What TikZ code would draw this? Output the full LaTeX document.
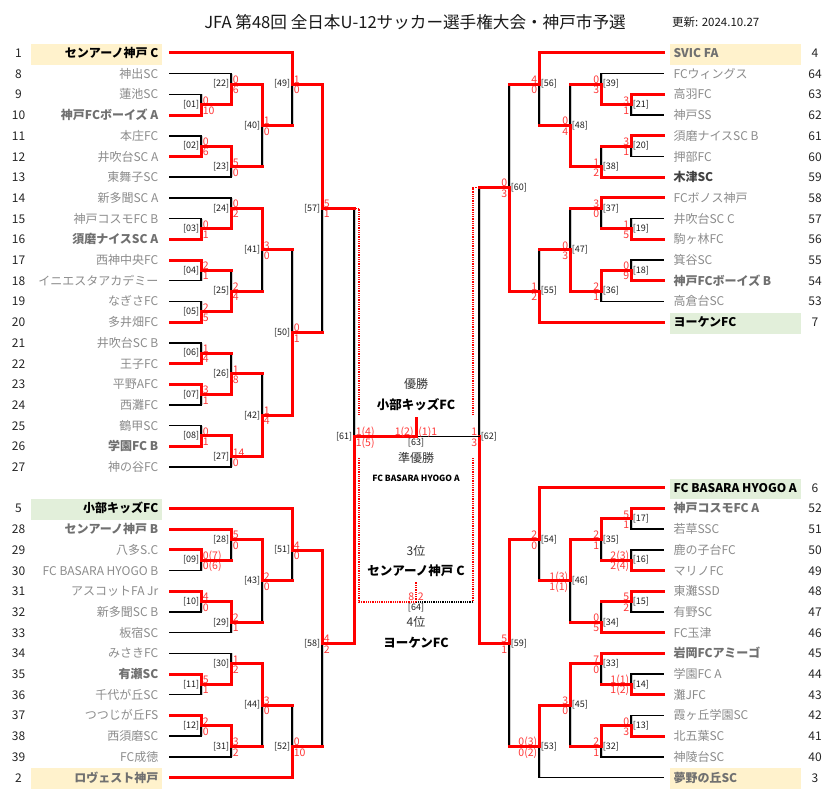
\documentclass[tikz,border=0pt]{standalone}
\usepackage{fontspec}
\setmainfont{Noto Sans CJK JP}
\definecolor{rd}{RGB}{255,0,0}
\definecolor{scr}{RGB}{255,55,55}
\definecolor{tg}{RGB}{140,140,140}
\definecolor{tgb}{RGB}{112,112,112}
\definecolor{tgd}{RGB}{65,65,65}
\definecolor{beige}{RGB}{255,242,204}
\definecolor{lgreen}{RGB}{226,239,218}
\definecolor{lblc}{RGB}{30,30,30}
\definecolor{shd}{RGB}{205,205,205}
\tikzset{
  redln/.style={draw=rd, line width=3pt, line cap=rect},
  blkln/.style={draw=black, line width=1.5pt, line cap=rect},
  shdln/.style={draw=shd, line width=1pt},
  dotr/.style={draw=rd, line width=1.5pt, dash pattern=on 0.9pt off 0.9pt},
  dotk/.style={draw=black, line width=1.5pt, dash pattern=on 0.9pt off 0.9pt},
  teamg/.style={font=\fontsize{12}{14}\selectfont, text=tg, inner sep=0pt, text height=10pt, text depth=1pt},
  teamgb/.style={font=\fontsize{12}{14}\selectfont\bfseries, text=tgb, inner sep=0pt, text height=10pt, text depth=1pt},
  teamd/.style={font=\fontsize{12}{14}\selectfont\bfseries, text=tgd, inner sep=0pt, text height=10pt, text depth=1pt},
  teamk/.style={font=\fontsize{12}{14}\selectfont\bfseries, text=black, inner sep=0pt, text height=10pt, text depth=1pt},
  numst/.style={font=\fontsize{12}{14}\selectfont, text=black!85, inner sep=0pt, text height=10pt, text depth=1pt},
  mlabel/.style={font=\fontsize{9}{10}\selectfont, text=lblc, inner sep=0pt},
  score/.style={font=\fontsize{10.5}{11}\selectfont, text=scr, inner sep=0.4pt, text height=7.6pt, text depth=0pt},
  ctrt/.style={font=\fontsize{12}{14}\selectfont, text=black!80, inner sep=0pt},
  ctrb/.style={font=\fontsize{12.5}{14}\selectfont\bfseries, text=black, inner sep=0pt},
}
\newcommand\LT[4]{%
  \pgfmathsetmacro\yy{53+20.7*#1}%
  \coordinate (TL#1) at (170,\yy);
  \node[numst] (nl#1) at (18.5,\yy) {#2};
  \node[#4, anchor=east] (tl#1) at (158.5,\yy) {#3};
}
\newcommand\RT[4]{%
  \pgfmathsetmacro\yy{53+20.7*#1}%
  \coordinate (TR#1) at (663,\yy);
  \node[numst] (nr#1) at (815,\yy) {#2};
  \node[#4, anchor=west] (tr#1) at (673.3,\yy) {#3};
}
\newcommand\LB[2]{%
  \pgfmathsetmacro\yy{53+20.7*#1}%
  \fill[#2] (31,\yy-9.2) rectangle (161.7,\yy+11.5);
}
\newcommand\RB[2]{%
  \pgfmathsetmacro\yy{53+20.7*#1}%
  \fill[#2] (670,\yy-9.2) rectangle (800.7,\yy+11.5);
}
% #1 num, #2 top input, #3 its style, #4 bottom input, #5 its style, #6 winner t/b, #7 top score, #8 bottom score
\newcommand\Lm[8]{%
  \if#6t \draw[shdln] ([xshift=1.9pt]m#1) -- ([xshift=1.9pt]#4 -| m#1); \draw[blkln] (m#1) -- (#4 -| m#1);
  \else \draw[shdln] ([xshift=1.9pt]m#1) -- ([xshift=1.9pt]#2 -| m#1); \draw[blkln] (m#1) -- (#2 -| m#1); \fi
  \draw[#3] (#2) -- (#2 -| m#1);
  \draw[#5] (#4) -- (#4 -| m#1);
  \if#6t \draw[redln] (#2 -| m#1) -- (m#1); \else \draw[redln] (#4 -| m#1) -- (m#1); \fi
  \node[mlabel, anchor=east] (lab#1) at ([xshift=-1.6pt]m#1) {[#1]};
  \node[score, anchor=south west] (sa#1) at ([xshift=1.2pt]m#1) {#7};
  \node[score, anchor=north west] (sb#1) at ([xshift=1.2pt,yshift=-1.4pt]m#1) {#8};
}
\newcommand\Rm[8]{%
  \if#6t \draw[shdln] ([xshift=1.9pt]m#1) -- ([xshift=1.9pt]#4 -| m#1); \draw[blkln] (m#1) -- (#4 -| m#1);
  \else \draw[shdln] ([xshift=1.9pt]m#1) -- ([xshift=1.9pt]#2 -| m#1); \draw[blkln] (m#1) -- (#2 -| m#1); \fi
  \draw[#3] (#2) -- (#2 -| m#1);
  \draw[#5] (#4) -- (#4 -| m#1);
  \if#6t \draw[redln] (#2 -| m#1) -- (m#1); \else \draw[redln] (#4 -| m#1) -- (m#1); \fi
  \node[mlabel, anchor=west] (lab#1) at ([xshift=1.6pt]m#1) {[#1]};
  \node[score, anchor=south east] (sa#1) at ([xshift=-1.2pt]m#1) {#7};
  \node[score, anchor=north east] (sb#1) at ([xshift=-1.2pt,yshift=-1.4pt]m#1) {#8};
}
\begin{document}
\begin{tikzpicture}[x=1pt,y=-1pt]
\useasboundingbox (0,0) rectangle (829,800);
\fill[white] (0,0) rectangle (829,800);

% title
\node[font=\fontsize{16.6}{18}\selectfont, text=black!90, inner sep=0pt] (title) at (415,22) {JFA 第48回 全日本U-12サッカー選手権大会・神戸市予選};
\node[font=\fontsize{11.5}{13}\selectfont, text=black!90, inner sep=0pt, anchor=west] (upd) at (672,22) {更新: 2024.10.27};

% highlight boxes
\LB{0}{beige} \LB{22}{lgreen} \LB{35}{beige}
\RB{0}{beige} \RB{13}{lgreen} \RB{21}{lgreen} \RB{35}{beige}

% left teams
\LT{0}{1}{センアーノ神戸 C}{teamk}
\LT{1}{8}{神出SC}{teamg}
\LT{2}{9}{蓮池SC}{teamg}
\LT{3}{10}{神戸FCボーイズ A}{teamgb}
\LT{4}{11}{本庄FC}{teamg}
\LT{5}{12}{井吹台SC A}{teamg}
\LT{6}{13}{東舞子SC}{teamg}
\LT{7}{14}{新多聞SC A}{teamg}
\LT{8}{15}{神戸コスモFC B}{teamg}
\LT{9}{16}{須磨ナイスSC A}{teamgb}
\LT{10}{17}{西神中央FC}{teamg}
\LT{11}{18}{イニエスタアカデミー}{teamg}
\LT{12}{19}{なぎさFC}{teamg}
\LT{13}{20}{多井畑FC}{teamg}
\LT{14}{21}{井吹台SC B}{teamg}
\LT{15}{22}{王子FC}{teamg}
\LT{16}{23}{平野AFC}{teamg}
\LT{17}{24}{西灘FC}{teamg}
\LT{18}{25}{鶴甲SC}{teamg}
\LT{19}{26}{学園FC B}{teamgb}
\LT{20}{27}{神の谷FC}{teamg}
\LT{22}{5}{小部キッズFC}{teamk}
\LT{23}{28}{センアーノ神戸 B}{teamgb}
\LT{24}{29}{八多S.C}{teamg}
\LT{25}{30}{FC BASARA HYOGO B}{teamg}
\LT{26}{31}{アスコットFA Jr}{teamg}
\LT{27}{32}{新多聞SC B}{teamg}
\LT{28}{33}{板宿SC}{teamg}
\LT{29}{34}{みさきFC}{teamg}
\LT{30}{35}{有瀬SC}{teamgb}
\LT{31}{36}{千代が丘SC}{teamg}
\LT{32}{37}{つつじが丘FS}{teamg}
\LT{33}{38}{西須磨SC}{teamg}
\LT{34}{39}{FC成徳}{teamg}
\LT{35}{2}{ロヴェスト神戸}{teamgb}

% right teams
\RT{0}{4}{SVIC FA}{teamgb}
\RT{1}{64}{FCウィングス}{teamg}
\RT{2}{63}{高羽FC}{teamg}
\RT{3}{62}{神戸SS}{teamg}
\RT{4}{61}{須磨ナイスSC B}{teamg}
\RT{5}{60}{押部FC}{teamg}
\RT{6}{59}{木津SC}{teamd}
\RT{7}{58}{FCボノス神戸}{teamg}
\RT{8}{57}{井吹台SC C}{teamg}
\RT{9}{56}{駒ヶ林FC}{teamg}
\RT{10}{55}{箕谷SC}{teamg}
\RT{11}{54}{神戸FCボーイズ B}{teamgb}
\RT{12}{53}{高倉台SC}{teamg}
\RT{13}{7}{ヨーケンFC}{teamk}
\RT{21}{6}{FC BASARA HYOGO A}{teamk}
\RT{22}{52}{神戸コスモFC A}{teamgb}
\RT{23}{51}{若草SSC}{teamg}
\RT{24}{50}{鹿の子台FC}{teamg}
\RT{25}{49}{マリノFC}{teamg}
\RT{26}{48}{東灘SSD}{teamg}
\RT{27}{47}{有野SC}{teamg}
\RT{28}{46}{FC玉津}{teamg}
\RT{29}{45}{岩岡FCアミーゴ}{teamgb}
\RT{30}{44}{学園FC A}{teamg}
\RT{31}{43}{灘JFC}{teamg}
\RT{32}{42}{霞ヶ丘学園SC}{teamg}
\RT{33}{41}{北五葉SC}{teamg}
\RT{34}{40}{神陵台SC}{teamg}
\RT{35}{3}{夢野の丘SC}{teamgb}

% match points (vertical x, output y)
\coordinate (m01) at (201,104.75);
\coordinate (m02) at (201,146.15);
\coordinate (m03) at (201,228.95);
\coordinate (m04) at (201,270.35);
\coordinate (m05) at (201,311.75);
\coordinate (m06) at (201,353.15);
\coordinate (m07) at (201,394.55);
\coordinate (m08) at (201,435.95);
\coordinate (m09) at (201,560.15);
\coordinate (m10) at (201,601.55);
\coordinate (m11) at (201,684.35);
\coordinate (m12) at (201,725.75);
\coordinate (m22) at (231,84.05);
\coordinate (m23) at (231,166.85);
\coordinate (m24) at (231,208.25);
\coordinate (m25) at (231,291.05);
\coordinate (m26) at (231,373.85);
\coordinate (m27) at (231,456.65);
\coordinate (m28) at (231,539.45);
\coordinate (m29) at (231,622.25);
\coordinate (m30) at (231,663.65);
\coordinate (m31) at (231,746.45);
\coordinate (m40) at (262,125.45);
\coordinate (m41) at (262,249.65);
\coordinate (m42) at (262,415.25);
\coordinate (m43) at (262,580.85);
\coordinate (m44) at (262,705.05);
\coordinate (m49) at (292,84.05);
\coordinate (m50) at (292,332.45);
\coordinate (m51) at (292,550);
\coordinate (m52) at (292,746.45);
\coordinate (m57) at (322,208.25);
\coordinate (m58) at (322,643.5);
\coordinate (m61) at (354,436.5);
\coordinate (m21) at (631,104.75);
\coordinate (m20) at (631,146.15);
\coordinate (m19) at (631,228.95);
\coordinate (m18) at (631,270.35);
\coordinate (m17) at (631,518.75);
\coordinate (m16) at (631,560.15);
\coordinate (m15) at (631,601.55);
\coordinate (m14) at (631,684.35);
\coordinate (m13) at (631,725.75);
\coordinate (m39) at (601,84.05);
\coordinate (m38) at (601,166.85);
\coordinate (m37) at (601,208.25);
\coordinate (m36) at (601,291.05);
\coordinate (m35) at (601,539.45);
\coordinate (m34) at (601,622.25);
\coordinate (m33) at (601,663.65);
\coordinate (m32) at (601,746.45);
\coordinate (m48) at (570,125.45);
\coordinate (m47) at (570,249.65);
\coordinate (m46) at (570,580.85);
\coordinate (m45) at (570,705.05);
\coordinate (m56) at (539,84.05);
\coordinate (m55) at (539,291.05);
\coordinate (m54) at (539,539.45);
\coordinate (m53) at (539,746.45);
\coordinate (m60) at (509,187.55);
\coordinate (m59) at (509,643.5);
\coordinate (m62) at (479,436.5);

% left bracket
\Lm{01}{TL2}{blkln}{TL3}{redln}{b}{0}{10}
\Lm{22}{TL1}{blkln}{m01}{redln}{b}{0}{6}
\Lm{02}{TL4}{blkln}{TL5}{redln}{b}{0}{6}
\Lm{23}{m02}{redln}{TL6}{blkln}{t}{5}{0}
\Lm{40}{m22}{redln}{m23}{redln}{t}{1}{0}
\Lm{49}{TL0}{redln}{m40}{redln}{t}{1}{0}
\Lm{03}{TL8}{blkln}{TL9}{redln}{b}{0}{1}
\Lm{24}{TL7}{blkln}{m03}{redln}{b}{0}{2}
\Lm{04}{TL10}{redln}{TL11}{blkln}{t}{2}{1}
\Lm{05}{TL12}{blkln}{TL13}{redln}{b}{2}{5}
\Lm{25}{m04}{redln}{m05}{redln}{b}{2}{4}
\Lm{41}{m24}{redln}{m25}{redln}{t}{3}{0}
\Lm{06}{TL14}{blkln}{TL15}{redln}{b}{1}{4}
\Lm{07}{TL16}{redln}{TL17}{blkln}{t}{3}{1}
\Lm{26}{m06}{redln}{m07}{redln}{b}{1}{8}
\Lm{08}{TL18}{blkln}{TL19}{redln}{b}{0}{1}
\Lm{27}{m08}{redln}{TL20}{blkln}{t}{14}{0}
\Lm{42}{m26}{redln}{m27}{redln}{b}{1}{4}
\Lm{50}{m41}{redln}{m42}{redln}{b}{0}{1}
\Lm{57}{m49}{redln}{m50}{redln}{t}{5}{1}
\Lm{09}{TL24}{redln}{TL25}{blkln}{t}{0(7)}{0(6)}
\Lm{28}{TL23}{redln}{m09}{redln}{t}{5}{0}
\Lm{10}{TL26}{redln}{TL27}{blkln}{t}{4}{0}
\Lm{29}{m10}{redln}{TL28}{blkln}{t}{2}{1}
\Lm{43}{m28}{redln}{m29}{redln}{t}{2}{0}
\Lm{51}{TL22}{redln}{m43}{redln}{t}{4}{0}
\Lm{11}{TL30}{redln}{TL31}{blkln}{t}{5}{1}
\Lm{30}{TL29}{blkln}{m11}{redln}{b}{1}{2}
\Lm{12}{TL32}{redln}{TL33}{blkln}{t}{2}{0}
\Lm{31}{m12}{redln}{TL34}{blkln}{t}{3}{2}
\Lm{44}{m30}{redln}{m31}{redln}{t}{3}{0}
\Lm{52}{m44}{redln}{TL35}{redln}{b}{0}{10}
\Lm{58}{m51}{redln}{m52}{redln}{t}{4}{2}

% right bracket
\Rm{21}{TR2}{redln}{TR3}{blkln}{t}{3}{1}
\Rm{39}{TR1}{blkln}{m21}{redln}{b}{0}{3}
\Rm{20}{TR4}{redln}{TR5}{blkln}{t}{3}{1}
\Rm{38}{m20}{redln}{TR6}{redln}{b}{1}{2}
\Rm{48}{m39}{redln}{m38}{redln}{b}{0}{4}
\Rm{56}{TR0}{redln}{m48}{redln}{t}{4}{0}
\Rm{19}{TR8}{blkln}{TR9}{redln}{b}{1}{5}
\Rm{37}{TR7}{redln}{m19}{redln}{t}{3}{0}
\Rm{18}{TR10}{blkln}{TR11}{redln}{b}{0}{9}
\Rm{36}{m18}{redln}{TR12}{blkln}{t}{2}{1}
\Rm{47}{m37}{redln}{m36}{redln}{b}{0}{3}
\Rm{55}{m47}{redln}{TR13}{redln}{b}{1}{2}
\Rm{60}{m56}{redln}{m55}{redln}{b}{0}{3}
\Rm{17}{TR22}{redln}{TR23}{blkln}{t}{5}{1}
\Rm{16}{TR24}{blkln}{TR25}{redln}{b}{2(3)}{2(4)}
\Rm{35}{m17}{redln}{m16}{redln}{t}{2}{1}
\Rm{15}{TR26}{redln}{TR27}{blkln}{t}{5}{2}
\Rm{34}{m15}{redln}{TR28}{redln}{b}{0}{5}
\Rm{46}{m35}{redln}{m34}{redln}{t}{1(3)}{1(1)}
\Rm{54}{TR21}{redln}{m46}{redln}{t}{2}{0}
\Rm{14}{TR30}{blkln}{TR31}{redln}{b}{1(1)}{1(2)}
\Rm{33}{TR29}{redln}{m14}{redln}{t}{7}{0}
\Rm{13}{TR32}{blkln}{TR33}{redln}{b}{0}{3}
\Rm{32}{m13}{redln}{TR34}{blkln}{t}{2}{1}
\Rm{45}{m33}{redln}{m32}{redln}{t}{3}{0}
\Rm{53}{m45}{redln}{TR35}{blkln}{t}{0(3)}{0(2)}
\Rm{59}{m54}{redln}{m53}{redln}{t}{5}{1}

% semifinals
\Lm{61}{m57}{redln}{m58}{redln}{b}{1(4)}{1(5)}
\Rm{62}{m60}{redln}{m59}{redln}{b}{1}{3}

% final [63]
\coordinate (fin) at (416,436.5);
\coordinate (fintop) at (416,418);
\draw[blkln] (fin) -- (m62);
\draw[redln] (m61) -- (fin);
\draw[redln] (fin) -- (fintop);
\node[score, anchor=south east] (fs1) at (414.2,436.5) {1(2)};
\node[score, anchor=south west] (fs2) at (417.8,436.5) {(1)1};
\node[mlabel, anchor=north] (lab63) at (416,438.5) {[63]};

% third place [64] (dotted)
\coordinate (dl1) at (359,208.25);
\coordinate (dl2) at (359,415);
\coordinate (dl3) at (359,458);
\coordinate (dl4) at (359,602);
\coordinate (dr1) at (473,187.55);
\coordinate (dr2) at (473,415);
\coordinate (dr3) at (473,458);
\coordinate (dr4) at (473,602);
\coordinate (thr) at (416,602);
\coordinate (thrtop) at (416,582);
\draw[dotr] (m57 -| m61) -- (dl1) -- (dl2);
\draw[dotr] (dl3) -- (dl4) -- (thr);
\draw[dotr] (m60 -| m62) -- (dr1) -- (dr2);
\draw[dotr] (dr3) -- (dr4);
\draw[dotk] (dr4) -- (thr);
\draw[dotr] (thr) -- (thrtop);
\node[score, anchor=south east] (ts1) at (414.8,601) {8};
\node[score, anchor=south west] (ts2) at (417.2,601) {2};
\node[mlabel, anchor=north] (lab64) at (416,603.5) {[64]};

% center results
\node[ctrt] (c1) at (416,384) {優勝};
\node[ctrb] (c2) at (416,405) {小部キッズFC};
\node[ctrt] (c3) at (416,458) {準優勝};
\node[font=\fontsize{8.5}{10}\selectfont\bfseries, text=black, inner sep=0pt] (c4) at (416,478) {FC BASARA HYOGO A};
\node[ctrt] (c5) at (416,551) {3位};
\node[ctrb] (c6) at (416,571) {センアーノ神戸 C};
\node[ctrt] (c7) at (416,622) {4位};
\node[ctrb] (c8) at (416,643) {ヨーケンFC};
\end{tikzpicture}
\end{document}
